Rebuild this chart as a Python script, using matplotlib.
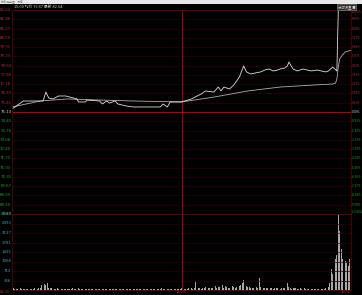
import matplotlib
matplotlib.use("Agg")
import matplotlib.pyplot as plt
from matplotlib.patches import Rectangle

plt.rcParams['font.family'] = ['Noto Sans CJK SC', 'DejaVu Sans']

W, H = 362, 295
pre_close = 75.13
limit_up = 82.64
limit_down = 67.62

# price line (minute from 09:30, price)
price_min = [0, 8, 11, 22, 24, 26, 29, 33, 38, 41, 46, 47, 52, 53, 62, 64, 67, 69, 73, 75,
             81, 86, 93, 105, 107, 110, 112, 120, 127, 134, 137, 143, 146, 148, 150, 154,
             157, 161, 164, 166, 169, 172, 176, 179, 182, 185, 188, 190, 193, 195, 196,
             199, 202, 206, 209, 212, 216, 219, 222, 224, 227, 230, 231, 240]
price = [75.35, 75.94, 75.94, 75.94, 76.60, 76.16, 76.09, 76.31, 76.31, 76.23, 76.09, 75.87,
         75.87, 76.01, 75.94, 75.72, 75.94, 75.79, 75.94, 75.72, 75.57, 75.50, 75.50, 75.50,
         75.72, 75.50, 75.87, 75.87, 76.09, 76.46, 76.68, 76.60, 76.97, 76.68, 76.97, 76.82,
         77.12, 77.71, 78.52, 78.08, 77.93, 78.00, 78.08, 78.22, 78.30, 78.15, 78.22, 78.30,
         78.37, 78.52, 78.81, 78.30, 78.15, 78.30, 78.22, 78.15, 78.22, 78.15, 78.08, 78.15,
         78.44, 78.15, 82.64, 82.64]

# average price line
avg_min = [0, 20, 39, 62, 86, 120, 143, 167, 190, 214, 227, 229, 230, 231, 232, 234, 236, 238, 240]
avg = [75.50, 75.94, 76.09, 76.01, 75.94, 75.87, 76.23, 76.68, 76.97, 77.12, 77.19, 77.25,
       77.56, 78.44, 79.03, 79.35, 79.55, 79.62, 79.67]

# volume per minute
volume = [150, 60, 40, 50, 30, 40, 60, 45, 35, 50, 40, 30, 45, 55, 40, 35, 60, 50, 45, 70,
          90, 200, 120, 240, 180, 260, 90, 70, 60, 50, 40, 45, 60, 35, 40, 55, 30, 40, 50, 35,
          30, 45, 40, 60, 35, 30, 40, 80, 50, 45, 35, 30, 40, 50, 30, 35, 45, 30, 40, 35,
          50, 40, 30, 90, 45, 35, 40, 30, 60, 45, 35, 40, 30, 45, 35, 40, 50, 30, 35, 40,
          30, 35, 45, 30, 40, 35, 30, 45, 30, 35, 40, 30, 35, 45, 30, 40, 35, 30, 40, 30,
          35, 30, 40, 45, 35, 30, 80, 40, 35, 30, 45, 35, 40, 30, 35, 40, 30, 35, 30, 40,
          60, 45, 50, 40, 55, 60, 70, 80, 50, 60, 310, 70, 60, 80, 55, 65, 90, 120, 60, 70,
          80, 60, 70, 310, 150, 90, 120, 110, 460, 180, 90, 140, 100, 80, 70, 60, 150, 120, 90, 110,
          130, 160, 180, 250, 390, 200, 150, 120, 100, 90, 80, 70, 60, 110, 90, 460, 130, 100, 80, 70,
          60, 80, 90, 60, 70, 50, 60, 80, 70, 60, 55, 60, 70, 80, 90, 270, 120, 60, 50, 60,
          70, 60, 50, 45, 60, 55, 50, 60, 45, 50, 55, 60, 45, 50, 40, 55, 45, 50, 60, 45,
          50, 55, 60, 80, 120, 250, 770, 600, 900, 1150, 1300, 2849, 2200, 1540, 1150, 1250, 1100, 1040, 900, 1150,
          600]
vol_max = 2849
vol_labels = ['2849', '2493', '2137', '1781', '1425', '1068', '712', '356']
time_labels = ['09:30', '13:00', '15:00']
header = '15:00 均价 79.67 最新 82.64'

fig = plt.figure(figsize=(W / 100, H / 100), dpi=100, facecolor='black')

def px_axes(x0, y0, x1, y1):
    return fig.add_axes([x0 / W, 1 - y1 / H, (x1 - x0) / W, (y1 - y0) / H])

ax = px_axes(12, 10, 351, 214)
axv = px_axes(12, 214, 351, 290)
for a in (ax, axv):
    a.set_facecolor('black')
    a.set_xlim(0, 240)
    a.set_xticks([])
    a.set_yticks([])
    for s in a.spines.values():
        s.set_color('#5a0000')
        s.set_linewidth(0.6)

# price grid and labels
n = 11
step = (limit_up - pre_close) / n
for i in range(-n, n + 1):
    lvl = pre_close + i * step
    pct = i * step / pre_close * 100
    if i == 0:
        ax.axhline(lvl, color='#b00010', lw=0.9)
        col = '#d8d8d8'
    else:
        ax.axhline(lvl, color='#300008', lw=0.5)
        col = '#b03040' if i > 0 else '#20a030'
    ax.text(-0.002, lvl, f'{lvl:.2f}', color=col, fontsize=2.8, ha='right', va='center',
            transform=ax.get_yaxis_transform(), family='DejaVu Sans')
    ax.text(1.002, min(max(lvl, limit_down + 0.12), limit_up - 0.12), f'{pct:.2f}%', color=col,
            fontsize=2.0, ha='left', va='center',
            transform=ax.get_yaxis_transform(), family='DejaVu Sans')
ax.set_ylim(limit_down, limit_up)
ax.axvline(120, color='#a00010', lw=0.8)

ax.plot(avg_min, avg, color='#b0b0b0', lw=0.6)
ax.plot(price_min, price, color='#e0e0e0', lw=0.6)

# volume
for i in range(1, 9):
    axv.axhline(vol_max * i / 8, color='#300008', lw=0.5)
for i, lab in enumerate(vol_labels):
    axv.text(-0.002, vol_max * (8 - i) / 8, lab, color='#4aa0b8', fontsize=2.8, ha='right',
             va='center', transform=axv.get_yaxis_transform(), family='DejaVu Sans')
axv.axvline(120, color='#a00010', lw=0.8)
axv.bar(range(len(volume)), volume, width=0.6, color='#a8a8a8', linewidth=0)
axv.set_ylim(0, vol_max)

# time labels
fig.text(0 / W, 1 - 292 / H, time_labels[0], color='#b03040', fontsize=2.8, ha='left', va='center')
fig.text(181 / W, 1 - 292 / H, time_labels[1], color='#b03040', fontsize=2.8, ha='center', va='center')
fig.text(351 / W, 1 - 292 / H, time_labels[2], color='#b03040', fontsize=2.8, ha='right', va='center')

# top bar
fig.patches.append(Rectangle((0, 1 - 4 / H), 1, 4 / H, transform=fig.transFigure,
                             facecolor='#e8e8e8', edgecolor='none'))
fig.text(1 / W, 1 - 2 / H, '分时走势图 - 行情', color='#808080', fontsize=2, ha='left', va='center')
fig.text(14 / W, 1 - 7 / H, header, color='#d0d0d0', fontsize=2.8, ha='left', va='center')
fig.text(338 / W, 1 - 7 / H, '分时设置 ■', color='#d0d0d0', fontsize=2.4, ha='left', va='center',
         bbox=dict(boxstyle='square,pad=0.2', facecolor='#303030', edgecolor='#909090', lw=0.4))

fig.savefig('out.png', dpi=100, facecolor='black')
